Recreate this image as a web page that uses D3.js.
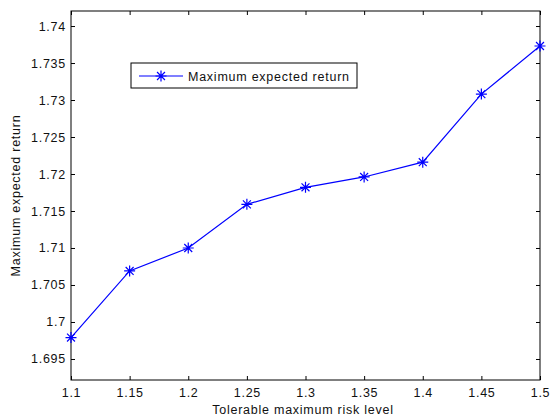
<!DOCTYPE html>
<html>
<head>
<meta charset="utf-8">
<script src="https://cdn.jsdelivr.net/npm/d3@7"></script>
<style>
  body { margin: 0; background: #fff; }
  svg { display: block; }
</style>
</head>
<body>
<div id="chart"></div>
<script>
// data
var riskLevels = [1.1, 1.15, 1.2, 1.25, 1.3, 1.35, 1.4, 1.45, 1.5];
var maxReturn = [1.6979, 1.7069, 1.7100, 1.7159, 1.7182, 1.7196, 1.7216, 1.7308, 1.7373];
var xTicks = [1.1, 1.15, 1.2, 1.25, 1.3, 1.35, 1.4, 1.45, 1.5];
var yTicks = [1.695, 1.7, 1.705, 1.71, 1.715, 1.72, 1.725, 1.73, 1.735, 1.74];
var seriesName = 'Maximum expected return';

var attrs = {
    svgWidth: 550,
    svgHeight: 417,
    marginLeft: 71,
    marginTop: 11,
    marginRight: 10,
    marginBottom: 37,
    font: '"Liberation Sans", Arial, Helvetica, sans-serif',
    fontSize: 12.5,
    letterSpacing: 0.75,
    textColor: '#111',
    lineColor: '#0000ff',
    tickLen: 4
};

var calc = {};
calc.width = attrs.svgWidth - attrs.marginLeft - attrs.marginRight;
calc.height = attrs.svgHeight - attrs.marginTop - attrs.marginBottom;

var x = d3.scaleLinear().domain([1.1, 1.5]).range([0, calc.width]);
var y = d3.scaleLinear().domain([1.69216, 1.74203]).range([calc.height, 0]);

var svg = d3.select('#chart').append('svg')
    .attr('width', attrs.svgWidth)
    .attr('height', attrs.svgHeight)
    .attr('font-family', attrs.font)
    .attr('font-size', attrs.fontSize)
    .attr('letter-spacing', attrs.letterSpacing);

var chart = svg.append('g')
    .attr('transform', 'translate(' + attrs.marginLeft + ',' + attrs.marginTop + ')');

// axes, matlab style: inward ticks on all four sides
var fmt = function (d) { return d3.format('')(+d.toFixed(3)); };

var xBottom = chart.append('g')
    .attr('transform', 'translate(0,' + calc.height + ')')
    .call(d3.axisBottom(x).tickValues(xTicks).tickFormat(fmt).tickSizeInner(-attrs.tickLen).tickSizeOuter(0).tickPadding(8));
var xTop = chart.append('g')
    .call(d3.axisTop(x).tickValues(xTicks).tickFormat('').tickSizeInner(-attrs.tickLen).tickSizeOuter(0));
var yLeft = chart.append('g')
    .call(d3.axisLeft(y).tickValues(yTicks).tickFormat(fmt).tickSizeInner(-attrs.tickLen).tickSizeOuter(0).tickPadding(5));
var yRight = chart.append('g')
    .attr('transform', 'translate(' + calc.width + ',0)')
    .call(d3.axisRight(y).tickValues(yTicks).tickFormat('').tickSizeInner(-attrs.tickLen).tickSizeOuter(0));

[xBottom, xTop, yLeft, yRight].forEach(function (g) {
    g.select('.domain').remove();
    g.selectAll('line').attr('stroke', '#000');
    g.selectAll('text').attr('fill', attrs.textColor)
        .attr('font-family', attrs.font).attr('font-size', attrs.fontSize);
});

chart.append('rect')
    .attr('width', calc.width)
    .attr('height', calc.height)
    .attr('fill', 'none')
    .attr('stroke', '#000')
    .attr('stroke-width', 1);

// series
var points = riskLevels.map(function (d, i) { return [d, maxReturn[i]]; });

chart.append('path')
    .datum(points)
    .attr('fill', 'none')
    .attr('stroke', attrs.lineColor)
    .attr('stroke-width', 1.2)
    .attr('d', d3.line().x(function (d) { return x(d[0]); }).y(function (d) { return y(d[1]); }));

function starPath(r) {
    var k = r * 0.72;
    return 'M' + (-r) + ',0L' + r + ',0M0,' + (-r) + 'L0,' + r +
        'M' + (-k) + ',' + (-k) + 'L' + k + ',' + k +
        'M' + (-k) + ',' + k + 'L' + k + ',' + (-k);
}

chart.selectAll('.marker').data(points).enter().append('path')
    .attr('class', 'marker')
    .attr('transform', function (d) { return 'translate(' + x(d[0]) + ',' + y(d[1]) + ')'; })
    .attr('d', starPath(5.5))
    .attr('fill', 'none')
    .attr('stroke', attrs.lineColor)
    .attr('stroke-width', 1.2);

// legend
var legend = svg.append('g').attr('transform', 'translate(131,63)');
legend.append('rect')
    .attr('width', 226)
    .attr('height', 25)
    .attr('fill', '#fff')
    .attr('stroke', '#000');
legend.append('line')
    .attr('x1', 8).attr('x2', 52).attr('y1', 13).attr('y2', 13)
    .attr('stroke', attrs.lineColor).attr('stroke-width', 1.2);
legend.append('path')
    .attr('transform', 'translate(30,13)')
    .attr('d', starPath(5.5))
    .attr('fill', 'none')
    .attr('stroke', attrs.lineColor)
    .attr('stroke-width', 1.2);
legend.append('text')
    .attr('x', 57).attr('y', 17.5)
    .attr('fill', attrs.textColor)
    .text(seriesName);

// axis titles
svg.append('text')
    .attr('x', 303)
    .attr('y', 414)
    .attr('text-anchor', 'middle')
    .attr('fill', attrs.textColor)
    .text('Tolerable maximum risk level');

svg.append('text')
    .attr('transform', 'translate(20,' + (attrs.marginTop + calc.height / 2) + ') rotate(-90)')
    .attr('text-anchor', 'middle')
    .attr('fill', attrs.textColor)
    .text('Maximum expected return');
</script>
</body>
</html>
